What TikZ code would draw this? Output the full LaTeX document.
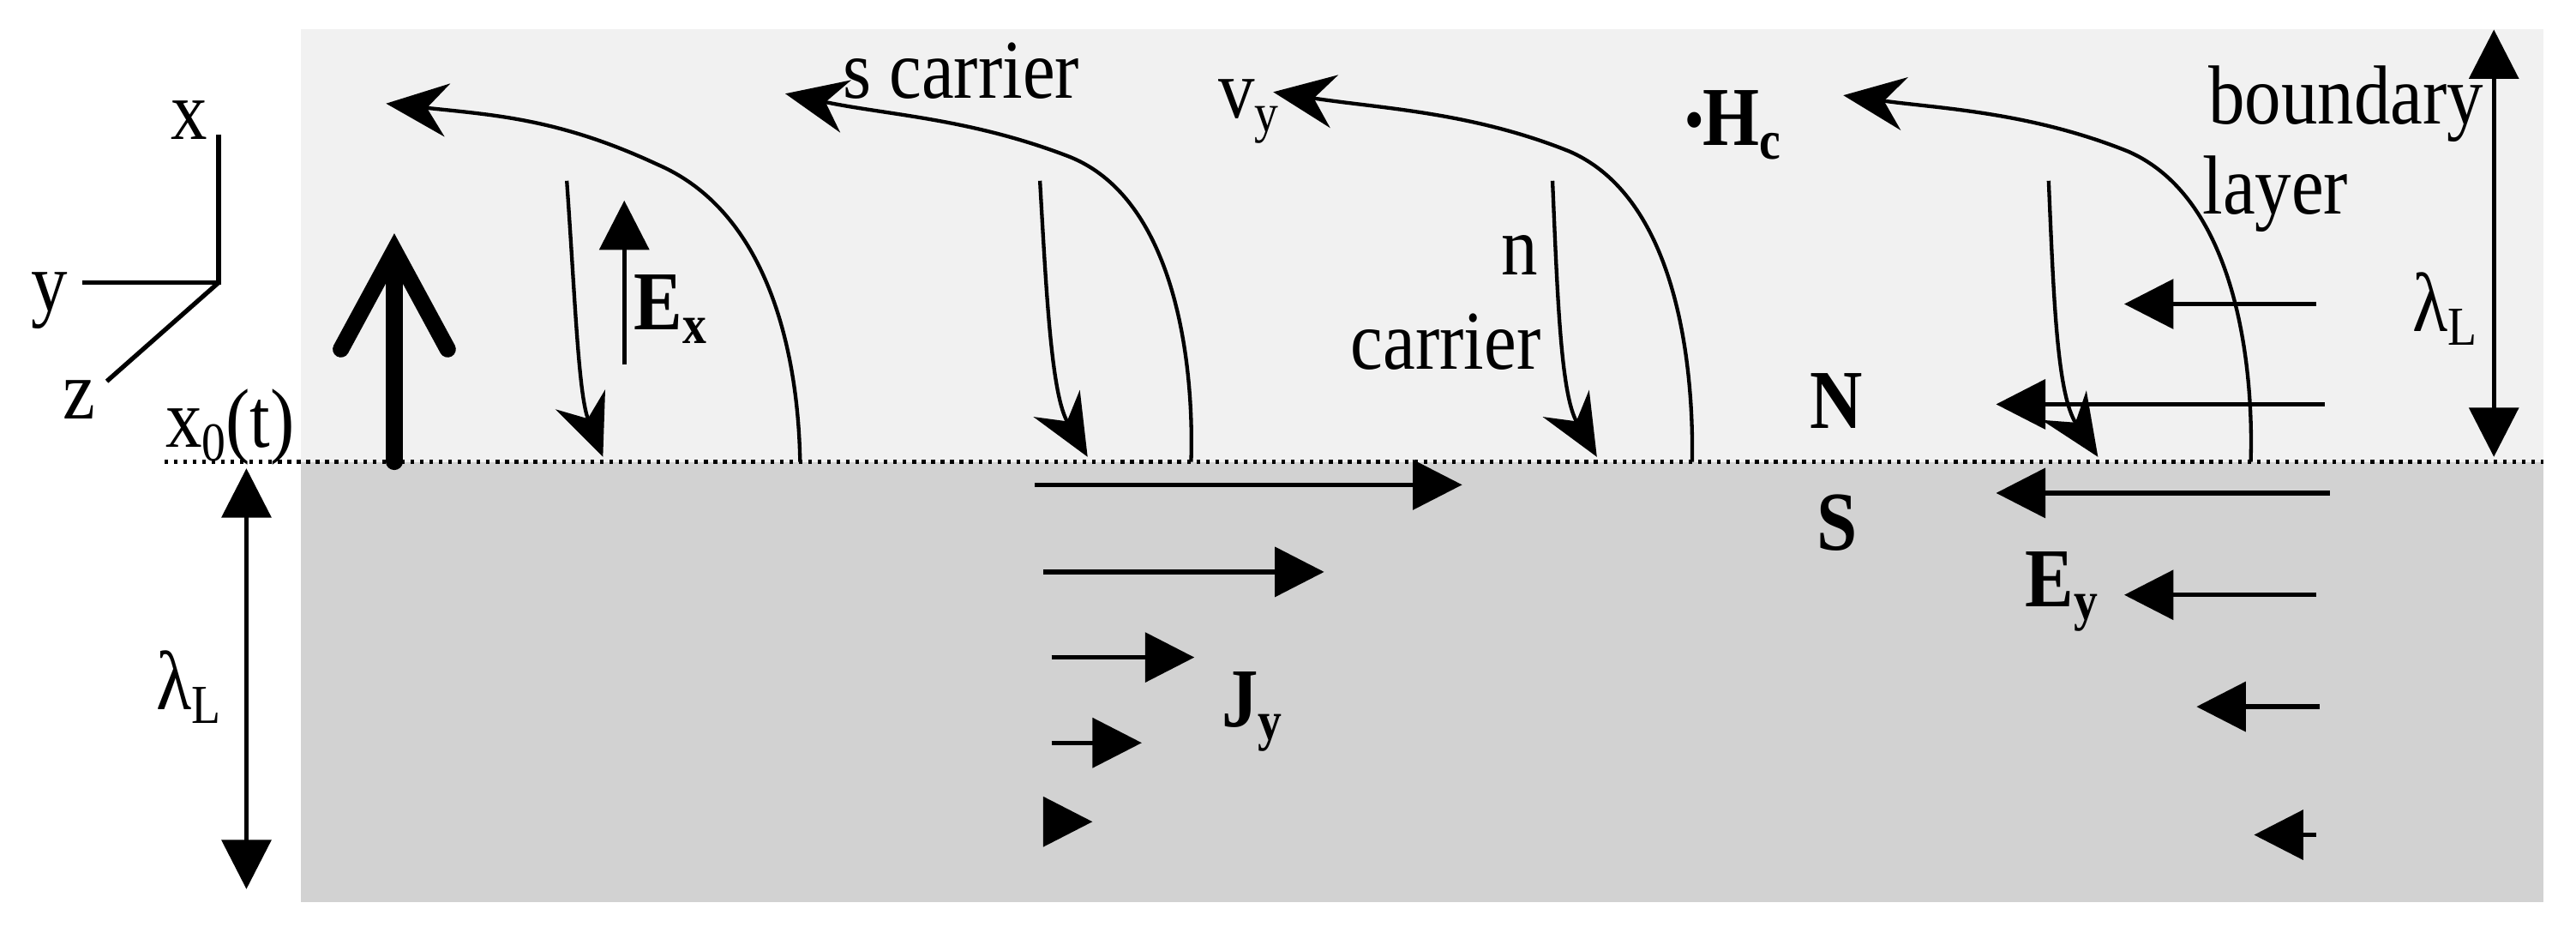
\documentclass[tikz,border=0pt]{standalone}
\usepackage{fontspec}
\setmainfont{Liberation Serif}[FakeStretch=0.87]
\usetikzlibrary{arrows.meta}
\newcommand{\sbs}[1]{\raisebox{-0.35ex}{\fontsize{19}{20}\selectfont #1}}
\begin{document}
\begin{tikzpicture}[x=0.02cm,y=-0.02cm,
  lbl/.style={font=\fontsize{29}{32}\selectfont,inner sep=0pt},
  blbl/.style={lbl,font=\fontsize{29}{32}\selectfont\bfseries},
  tri/.style={line width=0.055cm,-{Triangle[length=0.6cm,width=0.6cm]}},
  dbl/.style={line width=0.055cm,{Triangle[length=0.6cm,width=0.6cm]}-{Triangle[length=0.6cm,width=0.6cm]}},
  crv/.style={line width=0.045cm,-{Stealth[length=0.75cm,width=0.65cm,inset=0.25cm]}}]
\useasboundingbox (0,0) rectangle (1568,571);
\fill[white] (0,0) rectangle (1568,571);
\fill[gray!11] (183,18) rectangle (1548,281);
\fill[gray!35] (183,281) rectangle (1548,549);
\draw[line width=0.045cm,dotted] (100,281) -- (1548,281);
% axes
\coordinate (o) at (133,172);
\draw[line width=0.055cm] (133,82) -- (o) -- (50,172);
\draw[line width=0.055cm] (o) -- (65,232);
\node[lbl] (lx) at (115,73) {x};
\node[lbl] (ly) at (30,183) {y};
\node[lbl] (lz) at (48,243) {z};
\node[lbl] (x0) at (140,260) {x\sbs{0}(t)};
% left lambda
\coordinate (la) at (150,285); \coordinate (lb) at (150,541);
\draw[dbl] (la) -- (lb);
\node[lbl] (ll) at (115,418) {λ\sbs{L}};
% right lambda
\coordinate (ra) at (1518,18); \coordinate (rb) at (1518,278);
\draw[dbl] (ra) -- (rb);
\node[lbl] (rl) at (1488,188) {λ\sbs{L}};
% thick arrow
\draw[line width=0.2cm,line cap=round,line join=round,-{Straight Barb[length=1.2cm,width=1.3cm,line cap=round]}] (240,281) -- (240,142);
% Ex
\draw[tri] (380,222) -- (380,122);
\node[blbl] (ex) at (408,188) {E\sbs{x}};
% curves
\draw[crv] (487,281) .. controls (486,220) and (470,130) .. (400,100) .. controls (340,72) and (300,70) .. (235,63);
\draw[crv] (345,110) .. controls (350,180) and (352,240) .. (367,278);
\draw[crv] (725,281) .. controls (727,220) and (715,120) .. (650,95) .. controls (590,72) and (540,70) .. (478,57);
\draw[crv] (633,110) .. controls (637,180) and (640,240) .. (662,278);
\draw[crv] (1030,281) .. controls (1031,220) and (1020,120) .. (955,92) .. controls (895,68) and (840,66) .. (775,56);
\draw[crv] (945,110) .. controls (948,180) and (950,240) .. (972,278);
\draw[crv] (1370,281) .. controls (1372,220) and (1360,120) .. (1295,92) .. controls (1235,68) and (1180,66) .. (1122,58);
\draw[crv] (1247,110) .. controls (1250,180) and (1252,240) .. (1277,278);
% labels
\node[lbl] (sc) at (585,43) {s carrier};
\node[lbl] (vy) at (760,68) {v\sbs{y}};
\node[blbl] (hc) at (1055,76) {\raisebox{0.15ex}{\fontsize{20}{20}\selectfont\textbullet}H\sbs{c}};
\node[lbl] (n) at (925,155) {n};
\node[lbl] (nc) at (880,208) {carrier};
\node[lbl] (bd) at (1428,63) {boundary};
\node[lbl] (lay) at (1385,118) {layer};
\node[blbl] (N) at (1118,244) {N};
\node[blbl] (S) at (1118,318) {S};
\node[blbl] (ey) at (1255,360) {E\sbs{y}};
\node[blbl] (jy) at (762,433) {J\sbs{y}};
% Ey arrows
\draw[tri] (1410,185) -- (1293,185);
\draw[tri] (1415,246) -- (1215,246);
\draw[tri] (1418,300) -- (1215,300);
\draw[tri] (1410,362) -- (1293,362);
\draw[tri] (1412,430) -- (1337,430);
\draw[tri] (1410,508) -- (1372,508);
% Jy arrows
\draw[tri] (630,295) -- (890,295);
\draw[tri] (635,348) -- (806,348);
\draw[tri] (640,400) -- (727,400);
\draw[tri] (640,452) -- (695,452);
\draw[tri] (655,500) -- (665,500);
\end{tikzpicture}
\end{document}
